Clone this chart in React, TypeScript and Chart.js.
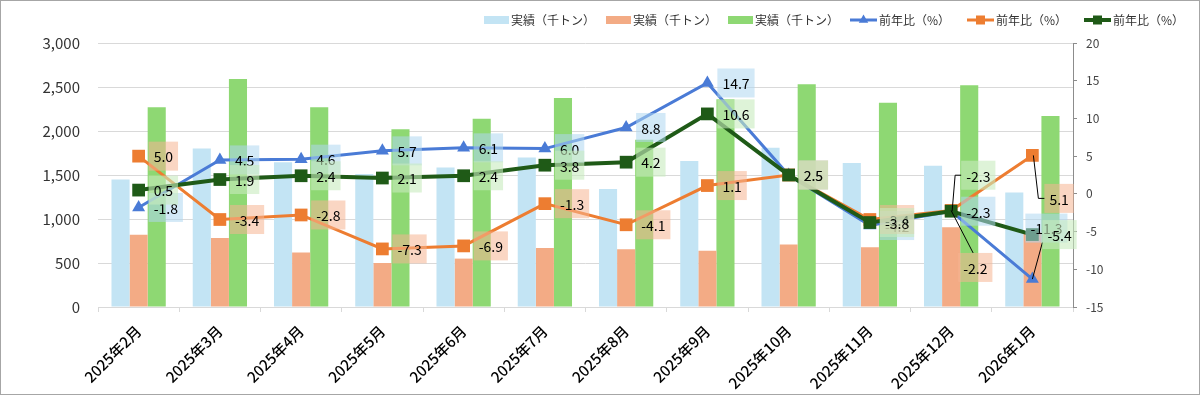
import React, { useEffect, useRef } from 'react';
import { Chart, registerables } from 'chart.js';

Chart.register(...registerables);

// ---------- data ----------
const categories = [
  '2025年2月', '2025年3月', '2025年4月', '2025年5月', '2025年6月', '2025年7月',
  '2025年8月', '2025年9月', '2025年10月', '2025年11月', '2025年12月', '2026年1月',
];
const barNames = ['実績（千トン）', '実績（千トン）', '実績（千トン）'];
const lineNames = ['前年比（%）', '前年比（%）', '前年比（%）'];

const actualBlue = [1450, 1800, 1645, 1510, 1585, 1700, 1340, 1660, 1810, 1635, 1605, 1300];
const actualOrange = [820, 785, 620, 500, 550, 670, 655, 640, 710, 680, 905, 850];
const actualGreen = [2270, 2590, 2270, 2020, 2140, 2375, 1900, 2360, 2530, 2320, 2520, 2170];

const yoyBlue = [-1.8, 4.5, 4.6, 5.7, 6.1, 6.0, 8.8, 14.7, 2.5, -4.2, -2.3, -11.3];
const yoyOrange = [5.0, -3.4, -2.8, -7.3, -6.9, -1.3, -4.1, 1.1, 2.5, -3.4, -2.2, 5.1];
const yoyGreen = [0.5, 1.9, 2.4, 2.1, 2.4, 3.8, 4.2, 10.6, 2.5, -3.8, -2.3, -5.4];

const leftTicks = { min: 0, max: 3000, step: 500 };
const rightTicks = { min: -15, max: 20, step: 5 };

// ---------- styles ----------
const FONT = '"Noto Sans CJK JP", "Noto Sans", sans-serif';
const barColors = ['#c3e4f4', '#f3ab85', '#8ed873'];
const lineColors = ['#4a7bd6', '#ed7d31', '#1f5a17'];
const lineWidths = [3, 3, 4];
const pointStyles = ['triangle', 'rect', 'rect'];
const pointRadii = [7.5, 9, 9];
const labelBg = [
  'rgba(175,215,240,0.55)',
  'rgba(245,180,145,0.55)',
  'rgba(200,235,190,0.6)',
];

// label placement overrides (pixel offsets from default spot), with leader lines
const labelOverrides = [
  { s: 0, i: 11, dx: -17, dy: -51, leader: 'bottom' },
  { s: 1, i: 11, dx: 2, dy: 43, leader: 'left' },
  { s: 2, i: 10, dx: 0, dy: -36, leader: 'left' },
  { s: 1, i: 10, dx: -3, dy: 57, leader: 'top' },
];

const legendItems = [
  { kind: 'bar', idx: 0, x: 484 },
  { kind: 'bar', idx: 1, x: 606 },
  { kind: 'bar', idx: 2, x: 728 },
  { kind: 'line', idx: 0, x: 850 },
  { kind: 'line', idx: 1, x: 967 },
  { kind: 'line', idx: 2, x: 1084 },
];

function drawMarker(ctx: CanvasRenderingContext2D, style: string, x: number, y: number, r: number, color: string) {
  ctx.save();
  ctx.fillStyle = color;
  ctx.beginPath();
  if (style === 'triangle') {
    ctx.moveTo(x, y - r);
    ctx.lineTo(x + r * 0.866, y + r * 0.5);
    ctx.lineTo(x - r * 0.866, y + r * 0.5);
    ctx.closePath();
  } else {
    ctx.rect(x - r, y - r, 2 * r, 2 * r);
  }
  ctx.fill();
  ctx.restore();
}

const labelPlugin = {
  id: 'valueLabels',
  afterDatasetsDraw(chart: any) {
    const ctx: CanvasRenderingContext2D = chart.ctx;
    ctx.save();
    ctx.font = `14px ${FONT}`;
    ctx.textBaseline = 'middle';
    ctx.textAlign = 'left';
    for (let s = 0; s < 3; s++) {
      const meta = chart.getDatasetMeta(3 + s);
      const data = chart.data.datasets[3 + s].data as number[];
      meta.data.forEach((pt: any, i: number) => {
        const px = pt.x;
        const py = pt.y;
        const txt = data[i].toFixed(1);
        const tw = ctx.measureText(txt).width;
        const ov = labelOverrides.find((o) => o.s === s && o.i === i);
        const w = tw + 10;
        const h = 29;
        const left = px + 10 + (ov ? ov.dx : 0);
        const cy = py + (ov ? ov.dy : 0);
        const top = cy - h / 2;
        ctx.fillStyle = labelBg[s];
        ctx.fillRect(left, top, w, h);
        if (ov) {
          ctx.strokeStyle = '#000';
          ctx.lineWidth = 1;
          ctx.beginPath();
          if (ov.leader === 'left') {
            ctx.moveTo(left, cy);
            ctx.lineTo(left - 6, cy);
            ctx.lineTo(px + 1, py);
          } else if (ov.leader === 'top') {
            ctx.moveTo(left + 15, top);
            ctx.lineTo(px, py);
          } else {
            ctx.moveTo(left + 17, top + h);
            ctx.lineTo(px, py);
          }
          ctx.stroke();
        }
        ctx.fillStyle = '#000';
        ctx.fillText(txt, left + 5, cy + 1);
      });
    }
    ctx.restore();
  },
  afterDraw(chart: any) {
    const ctx: CanvasRenderingContext2D = chart.ctx;
    ctx.save();
    ctx.font = `12px ${FONT}`;
    ctx.textBaseline = 'middle';
    ctx.textAlign = 'left';
    const ly = 20;
    legendItems.forEach((it) => {
      if (it.kind === 'bar') {
        ctx.fillStyle = barColors[it.idx];
        ctx.fillRect(it.x, ly - 4, 25, 8);
        ctx.fillStyle = '#333';
        ctx.fillText(barNames[it.idx], it.x + 27, ly);
      } else {
        ctx.strokeStyle = lineColors[it.idx];
        ctx.lineWidth = lineWidths[it.idx];
        ctx.beginPath();
        ctx.moveTo(it.x, ly);
        ctx.lineTo(it.x + 27, ly);
        ctx.stroke();
        drawMarker(ctx, pointStyles[it.idx], it.x + 13.5, ly, it.idx === 0 ? 5.5 : 4.5, lineColors[it.idx]);
        ctx.fillStyle = '#333';
        ctx.fillText(lineNames[it.idx], it.x + 29, ly);
      }
    });
    // outer frame
    ctx.strokeStyle = '#a6a6a6';
    ctx.lineWidth = 1;
    ctx.strokeRect(0.5, 0.5, 1199, 394);
    ctx.restore();
  },
};

export default function App() {
  const ref = useRef<HTMLCanvasElement | null>(null);
  useEffect(() => {
    if (!ref.current) return;
    const barDs = [actualBlue, actualOrange, actualGreen].map((d, k) => ({
      type: 'bar' as const,
      label: barNames[k],
      data: d,
      backgroundColor: barColors[k],
      borderWidth: 0,
      yAxisID: 'y',
      order: 10,
      categoryPercentage: 0.668,
      barPercentage: 1.0,
    }));
    const lineDs = [yoyBlue, yoyOrange, yoyGreen].map((d, k) => ({
      type: 'line' as const,
      label: lineNames[k],
      data: d,
      borderColor: lineColors[k],
      backgroundColor: lineColors[k],
      borderWidth: lineWidths[k],
      pointStyle: pointStyles[k],
      pointRadius: pointRadii[k],
      pointBorderWidth: 0,
      pointBackgroundColor: lineColors[k],
      tension: 0,
      yAxisID: 'y1',
      order: 3 - k,
    }));
    const chart = new Chart(ref.current, {
      type: 'bar',
      data: { labels: categories, datasets: [...barDs, ...lineDs] as any },
      options: {
        responsive: false,
        animation: false,
        devicePixelRatio: 1,
        layout: { padding: { top: 43, left: 0, right: 0, bottom: 0 } },
        plugins: { legend: { display: false }, tooltip: { enabled: false } },
        scales: {
          x: {
            afterFit: (s: any) => { s.height = 89; },
            grid: { display: true, drawOnChartArea: false, drawTicks: true, tickLength: 5, color: '#d9d9d9', offset: true },
            border: { display: true, color: '#d9d9d9', width: 1 },
            ticks: { font: { family: FONT, size: 15, weight: '500' }, color: '#000', maxRotation: 45, minRotation: 45, padding: 10 },
          },
          y: {
            position: 'left',
            min: leftTicks.min,
            max: leftTicks.max,
            afterFit: (s: any) => { s.width = 98; },
            grid: { color: '#d9d9d9', drawTicks: false, lineWidth: 1 },
            border: { display: false },
            ticks: {
              stepSize: leftTicks.step,
              padding: 18,
              color: '#333',
              font: { family: FONT, size: 15 },
              callback: (v: any) => Number(v).toLocaleString('en-US'),
            },
          },
          y1: {
            position: 'right',
            min: rightTicks.min,
            max: rightTicks.max,
            afterFit: (s: any) => { s.width = 127; },
            grid: { drawOnChartArea: false, drawTicks: true, tickLength: 4, color: '#8c8c8c' },
            border: { display: true, color: '#8c8c8c', width: 1 },
            ticks: { stepSize: rightTicks.step, padding: 9, color: '#444', font: { family: FONT, size: 12 } },
          },
        },
      } as any,
      plugins: [labelPlugin],
    });
    return () => chart.destroy();
  }, []);
  return (
    <div style={{ position: 'absolute', left: 0, top: 0, width: 1200, height: 396, background: '#fff' }}>
      <canvas ref={ref} width={1200} height={396} style={{ display: 'block' }} />
    </div>
  );
}
